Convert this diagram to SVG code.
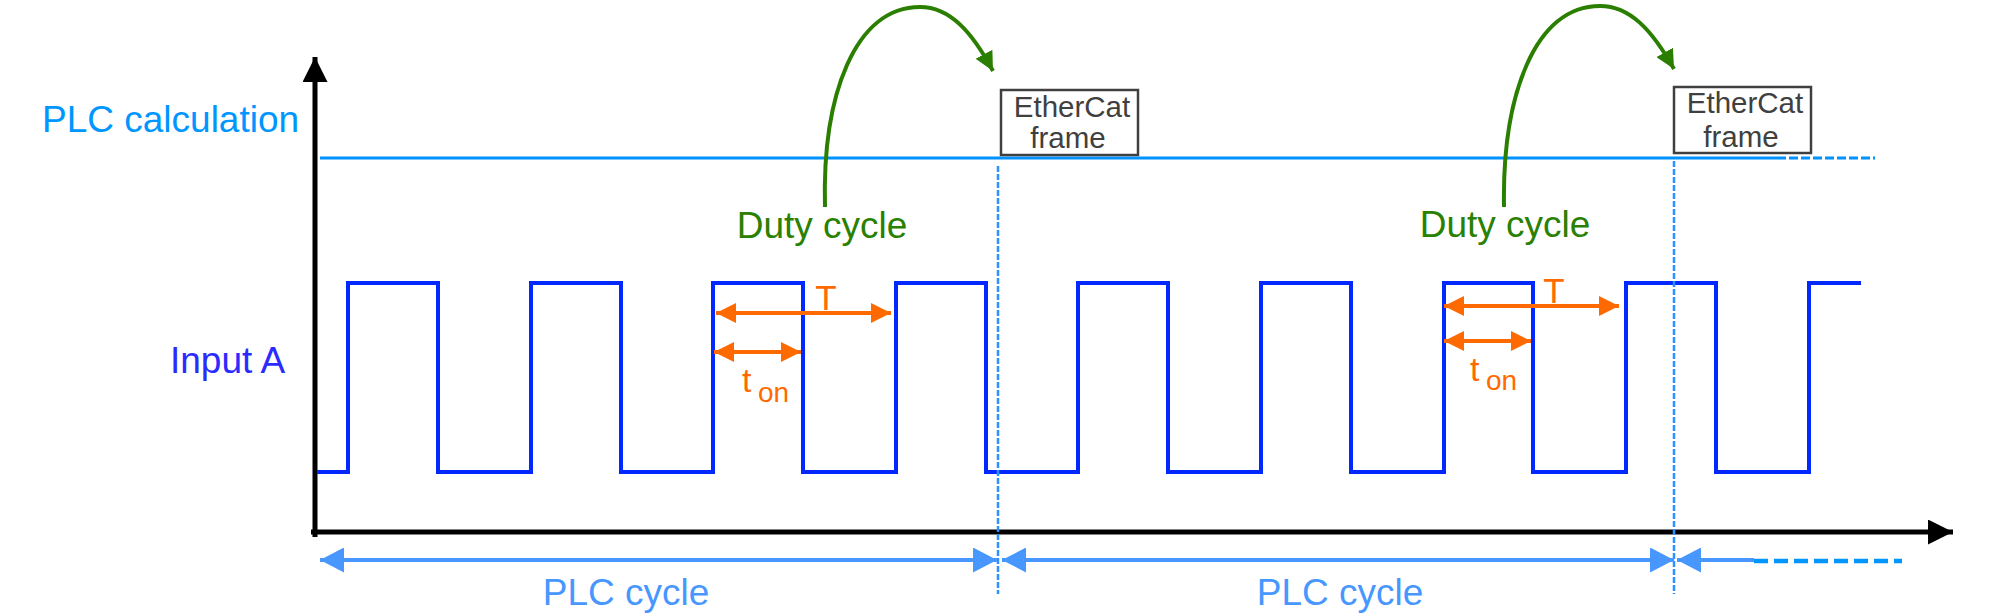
<svg xmlns="http://www.w3.org/2000/svg" width="2012" height="616" viewBox="0 0 2012 616">
<style>
text{font-family:"Liberation Sans",Arial,sans-serif}
.axis{stroke:#000;stroke-width:5;fill:none}
.wave{stroke:#0028ff;stroke-width:4;fill:none;stroke-linejoin:miter}
.calc{stroke:#0092ff;stroke-width:3;fill:none}
.vdash{stroke:#2a92ff;stroke-width:2.5;stroke-dasharray:6 2;fill:none}
.cyc{stroke:#4797ff;stroke-width:4;fill:none}
.orange{stroke:#ff6a00;stroke-width:4;fill:none}
.green{stroke:#2a7f00;stroke-width:4;fill:none}
.box{fill:#fff;stroke:#404040;stroke-width:2.5}
.boxt{fill:#404040;font-size:29.5px;text-anchor:middle}
.duty{fill:#2a8000;font-size:37px;text-anchor:middle}
.cyct{fill:#4797ff;font-size:37px;text-anchor:middle}
.ot{fill:#ff6a00}
</style>
<defs>
<marker id="mBlack" markerUnits="userSpaceOnUse" markerWidth="25" markerHeight="25" refX="25" refY="12.5" orient="auto"><path d="M0,0 L25,12.5 L0,25 z" fill="#000"/></marker>
<marker id="mBlue" markerUnits="userSpaceOnUse" markerWidth="24" markerHeight="25" refX="24" refY="12.5" orient="auto-start-reverse"><path d="M0,0 L24,12.5 L0,25 z" fill="#4797ff"/></marker>
<marker id="mOrange" markerUnits="userSpaceOnUse" markerWidth="20" markerHeight="20" refX="20" refY="10" orient="auto-start-reverse"><path d="M0,0 L20,10 L0,20 z" fill="#ff6a00"/></marker>
<marker id="mGreen" markerUnits="userSpaceOnUse" markerWidth="19" markerHeight="19" refX="19" refY="9.5" orient="auto"><path d="M0,0 L19,9.5 L0,19 z" fill="#2a7f00"/></marker>
</defs>
<rect width="2012" height="616" fill="#fff"/>

<g id="axes">
<line class="axis" x1="315" y1="537" x2="315" y2="57" marker-end="url(#mBlack)"/>
<line class="axis" x1="311" y1="532" x2="1953" y2="532" marker-end="url(#mBlack)"/>
</g>

<g id="labels">
<text x="42" y="132" font-size="37" fill="#0096ff">PLC calculation</text>
<text x="170" y="373" font-size="37" fill="#2b2bff">Input A</text>
</g>

<g id="plc-calculation-line">
<line class="calc" x1="320" y1="158" x2="1777" y2="158"/>
<line class="calc" x1="1777" y1="158" x2="1875" y2="158" stroke-dasharray="9 3"/>
</g>

<g id="input-a-wave">
<path class="wave" d="M317,472 H348 V283 H438 V472 H531 V283 H621 V472 H713 V283 H803 V472 H896 V283 H986 V472 H1078 V283 H1168 V472 H1261 V283 H1351 V472 H1444 V283 H1533 V472 H1626 V283 H1716 V472 H1809 V283 H1861"/>
</g>

<g id="connectors">
<line class="vdash" x1="998" y1="166" x2="998" y2="594"/>
<line class="vdash" x1="1674" y1="161" x2="1674" y2="594"/>
<line class="cyc" x1="320" y1="560" x2="997" y2="560" marker-start="url(#mBlue)" marker-end="url(#mBlue)"/>
<line class="cyc" x1="1002" y1="560" x2="1674" y2="560" marker-start="url(#mBlue)" marker-end="url(#mBlue)"/>
<line class="cyc" x1="1677" y1="560" x2="1754" y2="560" marker-start="url(#mBlue)"/>
<line x1="1754" y1="561" x2="1902" y2="561" stroke="#0096ff" stroke-width="4.5" stroke-dasharray="14 6"/>
<line class="orange" x1="716" y1="313" x2="891" y2="313" marker-start="url(#mOrange)" marker-end="url(#mOrange)"/>
<line class="orange" x1="714" y1="352" x2="801" y2="352" marker-start="url(#mOrange)" marker-end="url(#mOrange)"/>
<line class="orange" x1="1444" y1="306" x2="1619" y2="306" marker-start="url(#mOrange)" marker-end="url(#mOrange)"/>
<line class="orange" x1="1444" y1="341" x2="1531" y2="341" marker-start="url(#mOrange)" marker-end="url(#mOrange)"/>
<path class="green" d="M825,207 C822,95 855,7 920,7 C950,7 972,32 993,71" marker-end="url(#mGreen)"/>
<path class="green" d="M1504,207 C1502,95 1535,6 1600,6 C1630,6 1652,30 1674,69" marker-end="url(#mGreen)"/>
</g>

<g id="ethercat-frame-1">
<rect class="box" x="1001" y="90" width="137" height="65"/>
<text class="boxt" x="1072" y="117">EtherCat</text>
<text class="boxt" x="1068" y="148">frame</text>
</g>
<g id="ethercat-frame-2">
<rect class="box" x="1674" y="87" width="137" height="66"/>
<text class="boxt" x="1745" y="113">EtherCat</text>
<text class="boxt" x="1741" y="147">frame</text>
</g>

<g id="duty-cycle-1"><text class="duty" x="822" y="238">Duty cycle</text></g>
<g id="duty-cycle-2"><text class="duty" x="1505" y="237">Duty cycle</text></g>

<g id="t-label-1"><text class="ot" x="826" y="310" font-size="35" text-anchor="middle">T</text></g>
<g id="ton-label-1"><text class="ot" x="742" y="392" font-size="34">t<tspan x="758" y="402" font-size="28">on</tspan></text></g>
<g id="t-label-2"><text class="ot" x="1554" y="303" font-size="35" text-anchor="middle">T</text></g>
<g id="ton-label-2"><text class="ot" x="1470" y="381" font-size="34">t<tspan x="1486" y="390" font-size="28">on</tspan></text></g>

<g id="plc-cycle-1"><text class="cyct" x="626" y="605">PLC cycle</text></g>
<g id="plc-cycle-2"><text class="cyct" x="1340" y="605">PLC cycle</text></g>
</svg>
